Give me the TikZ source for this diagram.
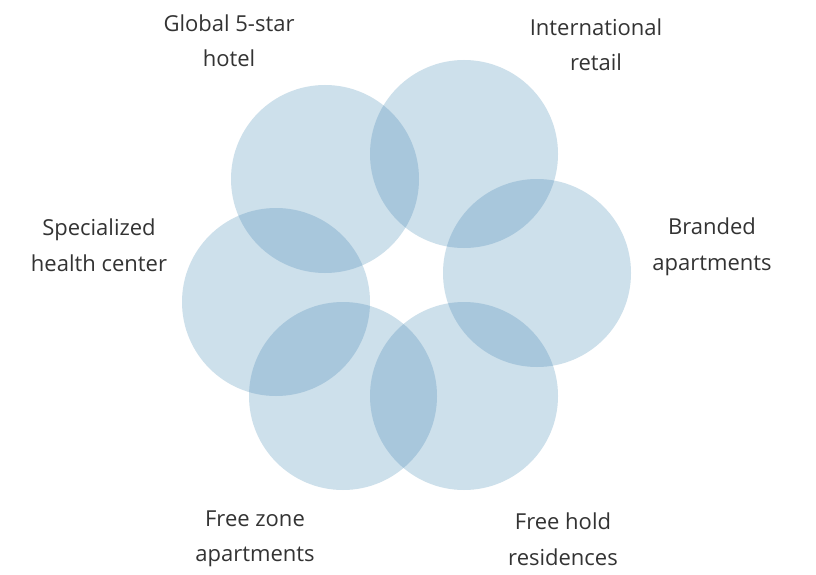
\documentclass[tikz,border=0pt]{standalone}
\usepackage{fontspec}
\setmainfont{Open Sans}
\definecolor{cfill}{HTML}{CDE0EB}
\definecolor{cover}{HTML}{A8C7DC}
\definecolor{ctext}{HTML}{333333}
\begin{document}
\begin{tikzpicture}[x=1pt,y=-1pt,
  lbl/.style={align=center,text=ctext,font=\fontsize{22}{35.5}\selectfont,inner sep=0pt}]
\useasboundingbox (0,0) rectangle (816,575);
\fill[white] (0,0) rectangle (816,575);
\def\R{94}
\coordinate (c1) at (325,179);
\coordinate (c2) at (464,154);
\coordinate (c3) at (537,273);
\coordinate (c4) at (464,396);
\coordinate (c5) at (343,396);
\coordinate (c6) at (276,302);
\foreach \c in {c1,c2,c3,c4,c5,c6} \fill[cfill] (\c) circle (\R);
\foreach \a/\b in {c1/c2,c2/c3,c3/c4,c4/c5,c5/c6,c6/c1}{
  \begin{scope}
    \clip (\a) circle (\R);
    \fill[cover] (\b) circle (\R);
  \end{scope}
}
\node[lbl] (t1) at (229,41) {Global 5-star\\hotel};
\node[lbl] (t2) at (596,45) {International\\retail};
\node[lbl] (t3) at (712,247) {Branded\\apartments};
\node[lbl] (t6) at (99,245) {Specialized\\health center};
\node[lbl] (t5) at (255,539) {Free zone\\apartments};
\node[lbl] (t4) at (563,539) {Free hold\\residences};
\end{tikzpicture}
\end{document}
